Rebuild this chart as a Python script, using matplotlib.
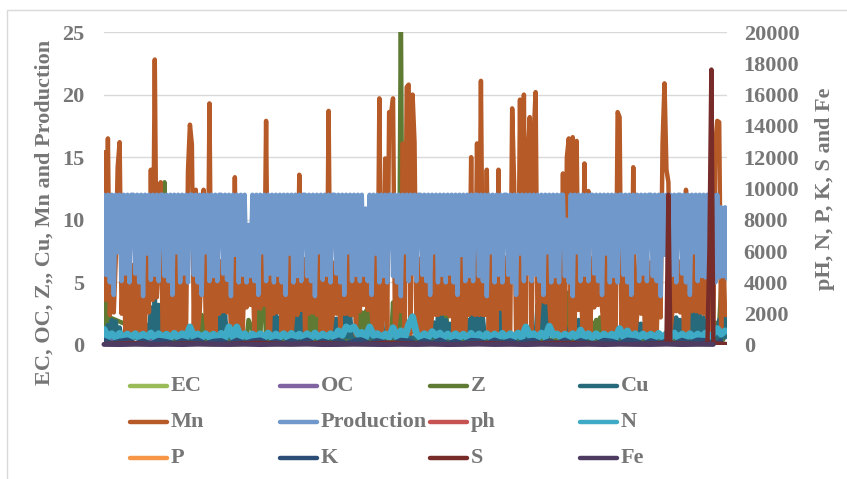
import numpy as np
import matplotlib
matplotlib.use('Agg')
import matplotlib.pyplot as plt
from matplotlib.lines import Line2D

production = [
    12, 5.6, 12, 5.0, 12, 4.0, 12, 7.4, 12, 5.1, 12, 5.7, 12, 5.0, 12,
    12, 5.7, 12, 5.0, 12, 3.9, 12, 7.3, 12, 5.2, 12, 5.6, 12, 5.1, 12,
    12, 5.5, 12, 5.1, 12, 4.0, 12, 7.4, 12, 5.0, 12, 5.7, 12, 5.0, 12,
    12, 5.6, 12, 5.0, 12, 4.0, 12, 7.4, 12, 5.1, 12, 5.5, 12, 5.1, 12,
    12, 5.7, 12, 5.2, 12, 3.9, 12, 7.2, 12, 5.0, 12, 5.6, 12, 5.0,
    9.6, 5.5, 12, 5.1, 12, 4.0, 12, 7.4, 12, 5.1, 12, 5.7, 12, 5.0,
    12, 5.6, 12, 5.0, 12, 4.0, 12, 7.3, 12, 5.0, 12, 5.5, 12, 5.1, 12,
    12, 5.5, 12, 5.1, 12, 3.9, 12, 7.4, 12, 5.2, 12, 5.6, 12, 5.0, 12,
    12, 5.7, 12, 5.0, 12, 4.0, 12, 7.4, 12, 5.1, 12, 5.6, 12, 5.1,
    12, 5.6, 10.9, 5.1, 12, 4.0, 12, 7.3, 12, 5.0, 12, 5.5, 12, 5.0, 12,
    12, 5.5, 12, 5.0, 12, 3.9, 12, 7.4, 12, 5.1, 12, 5.7, 12, 5.1, 12,
    12, 5.6, 12, 5.1, 12, 4.0, 12, 7.4, 12, 5.0, 12, 5.6, 12, 5.0,
    12, 5.7, 12, 5.0, 12, 4.0, 12, 7.2, 12, 5.1, 12, 5.5, 12, 5.1, 12,
    12, 5.5, 12, 5.1, 12, 3.9, 12, 7.4, 12, 5.0, 12, 5.6, 12, 5.0, 12,
    12, 5.6, 12, 5.0, 12, 4.0, 12, 7.3, 12, 5.1, 12, 5.7, 12, 5.1,
    12, 5.6, 12, 5.1, 12, 4.0, 12, 7.4, 12, 5.0, 12, 5.5, 12, 5.0, 12,
    12, 5.5, 10.0, 5.0, 12, 3.9, 12, 7.4, 12, 5.1, 12, 5.6, 12, 5.1, 12,
    12, 5.7, 12, 5.1, 12, 4.0, 12, 7.3, 12, 5.0, 12, 5.5, 12, 5.0, 12,
    12, 5.6, 12, 5.0, 12, 4.0, 12, 7.4, 12, 5.1, 12, 5.7, 12, 5.1, 12,
    12, 5.5, 12, 5.1, 12, 3.9, 12, 7.2, 12, 5.0, 12, 5.6, 12, 5.0, 12,
    12, 5.7, 12, 5.0, 12, 4.0, 12, 7.4, 12, 5.1, 12, 5.5, 12, 5.4, 12,
    12, 5.5, 12, 5.0, 12, 5.4, 11, 5.5, 11, 5.3,
]

mn = [
    15.4, 3.6, 16.5, 2.4, 6.6, 2.6, 6.8, 14.2, 16.2, 2.5, 6.6, 0.8, 6.9, 0.7, 6.4, 0.9, 7.0, 0.7, 6.7, 0.8,
    6.8, 0.9, 8.7, 2.6, 14.0, 3.6, 22.8, 3.8, 6.8, 13.0, 0.9, 0.8, 7.0, 0.7, 6.5, 0.9, 0.8, 8.7, 0.8, 0.8,
    6.9, 0.9, 0.9, 13.9, 17.6, 16.0, 0.9, 12.4, 1.0, 2.6, 6.6, 12.4, 2.6, 0.8, 19.3, 0.9, 6.6, 0.7, 7.0, 2.5,
    6.7, 2.7, 6.8, 2.6, 6.6, 0.9, 0.8, 13.4, 0.8, 0.7, 6.8, 0.8, 6.4, 3.0, 6.9, 3.2, 6.7, 0.9, 6.8, 3.0,
    2.9, 8.7, 3.2, 17.9, 0.9, 0.8, 6.8, 2.5, 6.5, 2.6, 6.9, 0.9, 6.6, 0.7, 0.8, 8.7, 0.8, 2.6, 7.0, 2.4,
    13.6, 2.8, 6.9, 0.8, 6.9, 2.5, 6.7, 2.6, 6.8, 2.4, 8.7, 0.9, 7.0, 0.7, 0.9, 18.7, 0.9, 2.3, 6.6, 2.5,
    6.9, 0.9, 6.7, 2.5, 2.5, 8.7, 2.4, 2.4, 7.0, 0.8, 6.5, 2.7, 6.8, 3.2, 6.9, 2.8, 6.9, 2.7, 0.8, 8.7,
    0.9, 19.7, 0.9, 2.6, 14.9, 0.9, 18.6, 18.5, 19.7, 0.9, 2.5, 6.6, 2.7, 16.1, 0.9, 20.6, 20.8, 0.9, 20.0, 16.2,
    0.9, 0.7, 6.9, 0.8, 6.6, 0.9, 7.0, 0.8, 2.4, 8.7, 2.4, 2.4, 6.6, 2.5, 6.9, 2.5, 6.5, 2.3, 6.8, 0.8,
    6.6, 0.7, 0.8, 8.7, 0.8, 0.8, 6.8, 2.4, 15.0, 2.5, 2.4, 16.1, 2.4, 21.1, 2.4, 2.4, 14.0, 0.8, 8.7, 0.9,
    6.9, 0.8, 14.0, 2.9, 6.6, 0.9, 7.0, 0.7, 0.9, 18.9, 12.9, 0.9, 1.0, 19.6, 1.0, 20.0, 1.0, 15.0, 18.2, 1.0,
    16.7, 20.2, 1.0, 3.4, 6.9, 3.5, 3.4, 8.7, 3.4, 0.9, 6.6, 0.7, 7.0, 0.8, 0.9, 13.7, 0.9, 15.0, 16.5, 0.9,
    16.6, 0.9, 16.3, 2.8, 6.8, 0.9, 14.5, 0.9, 12.3, 0.9, 6.9, 3.0, 6.7, 3.2, 6.9, 3.0, 0.8, 8.7, 0.8, 0.7,
    7.0, 0.9, 0.9, 18.6, 18.2, 0.8, 6.8, 0.7, 6.5, 0.9, 0.8, 14.2, 0.8, 2.4, 6.8, 2.5, 6.6, 0.8, 7.0, 0.7,
    6.6, 0.9, 6.8, 0.8, 6.9, 2.2, 16.1, 20.9, 14.0, 13.0, 0.9, 2.6, 6.9, 2.7, 6.7, 2.6, 6.8, 0.8, 12.4, 0.8,
    6.6, 2.7, 8.7, 2.7, 6.6, 2.6, 6.8, 2.5, 6.6, 2.2, 7.0, 0.7, 0.9, 16.0, 17.9, 17.8, 0.9, 8.7, 2.4, 2.4,
]

cu_samples = [
    0, 2, 3, 4, 5, 6, 7, 8, 9,
    21, 22, 23, 24, 25, 26, 27, 28, 29, 30, 31,
    57, 58, 59, 60, 61, 62, 63,
    85, 86, 87, 88, 89, 90, 91,
    96, 97, 98, 99, 100, 101, 102,
    114, 115, 116, 117, 118, 119, 120,
    122, 123, 124, 125, 126, 127,
    139, 140, 141, 142, 143,
    168, 169, 170, 171, 172, 173, 174, 175, 176, 177, 178,
    185, 186, 187, 188, 189, 190, 191, 192, 193, 194, 195,
    202, 203, 204,
    221, 222, 223, 224, 225, 226, 227, 228,
    240, 241, 242, 243, 244, 245, 246,
    270, 271, 272, 273, 274, 275, 276,
    290, 291, 292, 293, 294, 295, 296,
    298, 299, 300, 301, 302, 303, 304, 305, 306, 307, 308, 309, 310,
    314, 315, 316, 317, 318, 319,
]
cu = [
    0.6, 1.6, 0.6, 2.0, 0.6, 1.9, 0.6, 1.4, 0.6,
    0.6, 1.6, 0.6, 3.0, 0.6, 3.9, 0.6, 3.2, 0.6, 2.0, 0.6,
    0.6, 2.2, 0.6, 2.6, 0.6, 2.4, 0.6,
    0.6, 2.4, 0.6, 2.6, 0.6, 2.2, 0.6,
    0.6, 2.4, 0.6, 3.4, 0.6, 3.0, 0.6,
    0.6, 2.0, 0.6, 2.2, 0.6, 2.1, 0.6,
    2.6, 0.6, 2.8, 0.6, 2.4, 0.6,
    0.6, 2.6, 0.6, 2.9, 0.6,
    0.6, 1.8, 0.6, 2.2, 0.6, 2.2, 0.6, 2.0, 0.6, 1.7, 0.6,
    0.6, 2.0, 0.6, 2.4, 0.6, 2.3, 0.6, 2.4, 0.6, 2.2, 0.6,
    0.6, 2.8, 0.6,
    0.6, 3.2, 0.6, 3.4, 0.6, 3.3, 0.6, 3.0,
    0.6, 1.8, 0.6, 2.0, 0.6, 1.8, 0.6,
    0.6, 1.6, 0.6, 1.8, 0.6, 1.7, 0.6,
    0.6, 2.2, 0.6, 2.2, 0.6, 2.0, 0.6,
    0.6, 2.4, 0.6, 2.6, 0.6, 2.5, 0.6, 2.4, 0.6, 2.2, 0.6, 1.8, 0.6,
    0.6, 2.0, 0.6, 2.3, 0.6, 2.2,
]
z_samples = [
    0, 1, 2, 3,
    30, 31, 32,
    47, 48, 49, 50, 51, 52, 53,
    73, 74,
    78, 79, 80, 81, 82, 83,
    103, 104, 105, 106, 107, 108, 109, 110, 111,
    129, 130, 131, 132, 133, 134, 135, 136, 137, 138, 139,
    147, 148, 149, 150, 151, 152, 153,
    172, 173, 174, 175, 176,
    237, 238, 239, 240, 241,
    249, 250, 251, 252, 253, 254, 255, 256, 257,
    279, 280, 281, 282, 283,
    312, 313, 314, 315, 316, 317,
]
z = [
    0.4, 4.6, 0.4, 2.2,
    0.4, 13.0, 0.4,
    0.4, 2.2, 0.4, 2.4, 0.4, 2.4, 0.4,
    0.4, 2.0,
    0.4, 3.6, 0.4, 4.5, 4.4, 0.4,
    0.4, 2.4, 0.4, 2.8, 0.4, 2.8, 0.4, 2.6, 0.4,
    0.4, 2.4, 0.4, 2.6, 0.4, 2.7, 0.4, 2.6, 0.4, 2.4, 0.4,
    0.4, 3.4, 0.4, 4.6, 0.4, 27, 0.4,
    0.4, 3.2, 0.4, 3.4, 0.4,
    0.4, 4.2, 0.4, 4.3, 0.4,
    0.4, 1.8, 0.4, 2.0, 0.4, 2.2, 0.4, 2.0, 0.4,
    0.4, 2.2, 0.4, 2.2, 0.4,
    0.4, 1.8, 0.4, 1.6, 4.6, 0.4,
]
# every second sample
n = [
    1000, 500, 720, 480, 740, 470, 700, 490, 720, 470,
    690, 490, 760, 470, 720, 500, 690, 470, 740, 480,
    720, 460, 1150, 500, 700, 470, 720, 490, 690, 480,
    740, 470, 1150, 500, 1150, 480, 720, 470, 700, 490,
    720, 470, 760, 460, 700, 500, 720, 470, 740, 480,
    690, 490, 720, 460, 760, 480, 700, 490, 720, 470,
    900, 620, 1150, 1000, 1150, 700, 800, 480, 1150, 620,
    720, 470, 700, 490, 1100, 500, 900, 480, 1300, 1800,
    720, 480, 720, 490, 850, 600, 760, 470, 700, 490,
    720, 470, 690, 480, 740, 460, 700, 490, 720, 470,
    700, 480, 740, 460, 720, 490, 760, 470, 1150, 600,
    720, 470, 760, 490, 1200, 620, 700, 490, 690, 500,
    720, 480, 950, 500, 720, 470, 720, 480, 700, 490,
    690, 480, 1050, 520, 900, 470, 720, 490, 700, 500,
    690, 470, 740, 480, 720, 490, 760, 460, 700, 480,
    720, 470, 700, 490, 760, 460, 720, 1050, 700, 900,
]
# every fourth sample
k = [
    320, 120, 260, 340, 120, 280, 100, 320, 240, 120, 300, 160, 340, 110, 260, 300,
    100, 320, 140, 280, 340, 120, 260, 110, 300, 160, 340, 100, 280, 140, 320, 120,
    260, 340, 120, 300, 160, 100, 320, 280, 120, 300, 140, 340, 120, 260, 100, 320,
    280, 120, 340, 160, 300, 120, 260, 320, 110, 280, 140, 340, 100, 300, 160, 120,
    320, 260, 120, 340, 280, 100, 300, 140, 260, 120, 320, 160, 340, 300, 120, 280,
]
s_samples = [0, 14, 26, 42, 60, 78, 96, 112, 130, 146, 162, 178, 196, 214, 232, 250, 268, 284, 288, 289, 290, 305, 309, 310, 311, 312, 319]
s = [60, 120, 40, 100, 50, 140, 60, 110, 40, 150, 70, 40, 120, 50, 140, 80, 40, 90, 100, 9600, 100, 60, 100, 6100, 17600, 100, 60]
# every eighth sample
fe = [40, 30, 50, 35, 45, 30, 55, 40, 35, 50, 30, 45, 40, 55, 30, 35, 50, 40, 30, 45,
      35, 50, 30, 40, 55, 35, 45, 30, 50, 40, 35, 45, 30, 50, 40, 35, 55, 30, 45, 40]
ec = [0.5, 0.3, 0.6, 0.4, 0.3, 0.5, 0.4, 0.6, 0.3, 0.5, 0.4, 0.3, 0.6, 0.4, 0.5, 0.3, 0.4, 0.6, 0.3, 0.5,
      0.4, 0.5, 0.3, 0.6, 0.4, 0.3, 0.5, 0.4, 0.6, 0.3, 0.5, 0.4, 0.3, 0.6, 0.5, 0.4, 0.3, 0.5, 0.4, 0.6]
oc = [0.6, 0.4, 0.8, 0.5, 0.6, 0.4, 0.7, 0.5, 0.6, 0.8, 0.4, 0.5, 0.7, 0.6, 0.4, 0.5, 0.8, 0.6, 0.4, 0.7,
      0.5, 0.6, 0.4, 0.8, 0.5, 0.6, 0.7, 0.4, 1.8, 0.6, 0.5, 0.7, 0.4, 0.6, 0.5, 0.8, 0.4, 0.6, 0.5, 0.7]
ph = [7.4, 7.6, 7.2, 7.5, 7.8, 7.3, 7.6, 7.4, 7.7, 7.2, 7.5, 7.4, 7.8, 7.3, 7.6, 7.5, 7.2, 7.7, 7.4, 7.6,
      7.3, 7.5, 7.8, 7.4, 7.2, 7.6, 7.5, 7.3, 7.7, 7.4, 7.6, 7.2, 7.5, 7.8, 7.4, 7.3, 7.6, 7.5, 7.7, 7.4]
p = [30, 22, 38, 26, 34, 20, 40, 28, 24, 36, 30, 22, 34, 26, 40, 24, 30, 36, 20, 28,
     34, 24, 38, 26, 30, 22, 36, 28, 40, 20, 32, 26, 38, 24, 30, 34, 22, 36, 28, 30]

names = ['EC', 'OC', 'Z', 'Cu', 'Mn', 'Production', 'ph', 'N', 'P', 'K', 'S', 'Fe']
colors = ['#9BBB59', '#8064A2', '#5F7A33', '#276A7C', '#B65A27', '#7098CB',
          '#C65351', '#3EAAC5', '#F79646', '#2C4D75', '#772C2A', '#4D3B62']
left_ticks = [0, 5, 10, 15, 20, 25]
right_ticks = [0, 2000, 4000, 6000, 8000, 10000, 12000, 14000, 16000, 18000, 20000]

plt.rcParams['font.family'] = 'Liberation Serif'
plt.rcParams['font.weight'] = 'bold'
gray = '#767676'
lw = 3.2

fig = plt.figure(figsize=(8.47, 4.79), dpi=100)
W, H = 847., 479.
ax = fig.add_axes([104 / W, 1 - 345 / H, 623 / W, 313 / H])
ax2 = ax.twinx()


def draw(a, x, y, name, width=lw, **kw):
    a.plot(x, y, color=colors[names.index(name)], lw=width, solid_capstyle='round',
           solid_joinstyle='round', **kw)


draw(ax, np.arange(len(ec)) * 8, ec, 'EC')
draw(ax, np.arange(len(oc)) * 8, oc, 'OC')
draw(ax, z_samples, z, 'Z')
draw(ax, cu_samples, cu, 'Cu')
draw(ax, np.arange(len(mn)), mn, 'Mn')
draw(ax, np.arange(len(production)), production, 'Production')
draw(ax2, np.arange(len(ph)) * 8, ph, 'ph')
draw(ax2, np.arange(len(n)) * 2, n, 'N', width=5)
draw(ax2, np.arange(len(p)) * 8, p, 'P')
draw(ax2, np.arange(len(k)) * 4, k, 'K')
draw(ax2, s_samples, s, 'S')
draw(ax2, np.arange(len(fe)) * 8, fe, 'Fe', width=3.6, clip_on=False)

ax.set_xlim(0, 319)
ax.set_ylim(0, 25)
ax2.set_ylim(0, 20000)
ax.set_xticks([])
ax.set_yticks(left_ticks)
ax2.set_yticks(right_ticks)
ax.grid(axis='y', color='#d9d9d9', lw=1)
ax.set_axisbelow(True)
for a in [ax, ax2]:
    for sp in a.spines.values():
        sp.set_visible(False)
    a.tick_params(axis='y', length=0, labelsize=16, labelcolor=gray)
ax.tick_params(axis='y', pad=14)
ax2.tick_params(axis='y', pad=12)

fig.text(45 / W, 1 - 212.5 / H, 'EC, OC, Z,, Cu, Mn and Production', rotation=90, ha='center', va='center',
         fontsize=16, color=gray)
fig.text(825 / W, 1 - 189 / H, 'pH, N, P, K, S and Fe', rotation=90, ha='center', va='center',
         fontsize=16, color=gray)

# legend laid out by hand, Excel keeps the columns equal
for i, name in enumerate(names):
    col = i % 4
    row = i // 4
    x0 = (130 + col * 150) / W
    y0 = 1 - (386 + row * 36) / H
    fig.add_artist(Line2D([x0, x0 + 37 / W], [y0, y0], color=colors[i], lw=lw, solid_capstyle='round'))
    fig.text(x0 + 41 / W, y0, name, ha='left', va='center', fontsize=16, color=gray)

# frame of the pasted picture
fig.add_artist(Line2D([7 / W, 7 / W, 1], [0, 1 - 10 / H, 1 - 10 / H], color='#d9d9d9', lw=1))

plt.savefig('out.png', dpi=100)
